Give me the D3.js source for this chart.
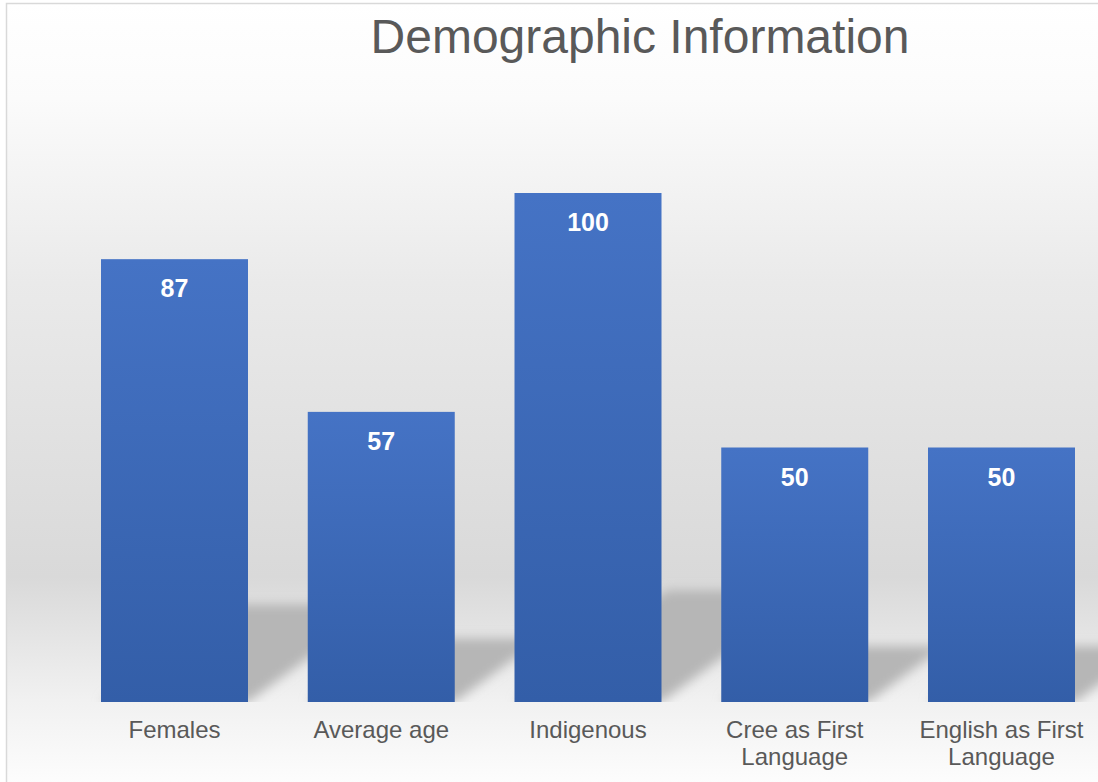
<!DOCTYPE html>
<html>
<head>
<meta charset="utf-8">
<script src="https://cdn.jsdelivr.net/npm/d3@7"></script>
<style>
  html, body { margin: 0; padding: 0; background: #ffffff; }
  svg { display: block; }
  text { font-family: "Liberation Sans", Arial, sans-serif; }
</style>
</head>
<body>
<div id="chart"></div>
<script>
const titleText = "Demographic Information";
const categories = ["Females", "Average age", "Indigenous", "Cree as First Language", "English as First Language"];
const values = [87, 57, 100, 50, 50];

const W = 1098, H = 782;
const svg = d3.select("#chart").append("svg").attr("width", W).attr("height", H);
const defs = svg.append("defs");

// background gradient
const bg = defs.append("linearGradient").attr("id", "bgGrad")
  .attr("gradientUnits", "userSpaceOnUse").attr("x1", 0).attr("y1", 3).attr("x2", 0).attr("y2", 800);
[[0, "#ffffff"], [0.12, "#fbfbfb"], [0.35, "#eaeaea"], [0.72, "#d9d9d9"], [0.875, "#f1f1f1"], [1, "#ffffff"]]
  .forEach(([o, c]) => bg.append("stop").attr("offset", o).attr("stop-color", c));

// bar gradient
const bgBar = defs.append("linearGradient").attr("id", "barGrad")
  .attr("x1", 0).attr("y1", 0).attr("x2", 0).attr("y2", 1);
bgBar.append("stop").attr("offset", 0).attr("stop-color", "#4573c5");
bgBar.append("stop").attr("offset", 1).attr("stop-color", "#335ea8");

// shadow blur
defs.append("filter").attr("id", "blur").attr("x", "-30%").attr("y", "-30%").attr("width", "160%").attr("height", "160%")
  .append("feGaussianBlur").attr("stdDeviation", 5.5);

const baseY = 702;
defs.append("clipPath").attr("id", "plotClip").append("rect")
  .attr("x", 0).attr("y", 0).attr("width", W).attr("height", baseY);

// chart background + border
svg.append("rect").attr("x", 6.5).attr("y", 3.5).attr("width", W + 20).attr("height", H + 20)
  .attr("fill", "url(#bgGrad)").attr("stroke", "#d9d9d9").attr("stroke-width", 1.5);

const x = d3.scaleBand().domain(categories).range([71.125, 1104.875])
  .paddingInner(59.75 / 206.75).paddingOuter(29.875 / 206.75);
const y = d3.scaleLinear().domain([0, 100]).range([baseY, 193]);

// perspective shadows
const shadowG = svg.append("g").attr("clip-path", "url(#plotClip)");
shadowG.selectAll("path").data(values).join("path")
  .attr("d", (d, i) => {
    const x0 = x(categories[i]), x1 = x0 + x.bandwidth();
    const h = y(0) - y(d);
    const dx = h * 0.3, dy = h * 0.22;
    return `M${x0},${y(0)}L${x1},${y(0)}L${x1 + dx},${y(0) - dy}L${x0 + dx},${y(0) - dy}Z`;
  })
  .attr("fill", "#b6b6b6")
  .attr("filter", "url(#blur)");

// bars
svg.append("g").selectAll("rect").data(values).join("rect")
  .attr("x", (d, i) => x(categories[i]))
  .attr("y", d => y(d))
  .attr("width", x.bandwidth())
  .attr("height", d => y(0) - y(d))
  .attr("fill", "url(#barGrad)");

// data labels
svg.append("g").selectAll("text").data(values).join("text")
  .attr("x", (d, i) => x(categories[i]) + x.bandwidth() / 2)
  .attr("y", d => y(d) + 38)
  .attr("text-anchor", "middle")
  .attr("fill", "#ffffff")
  .attr("font-weight", "bold")
  .attr("font-size", 25)
  .text(d => d);

// x axis
const axisG = svg.append("g").attr("transform", `translate(0,${baseY})`)
  .call(d3.axisBottom(x).tickSize(0).tickPadding(0));
axisG.select(".domain").remove();
axisG.selectAll(".tick text")
  .attr("fill", "#595959")
  .attr("font-size", 24)
  .attr("font-family", "'Liberation Sans', Arial, sans-serif")
  .attr("dy", null)
  .attr("y", 36)
  .each(function () {
    const t = d3.select(this);
    const words = t.text().split(" ");
    t.text(null);
    const maxW = 190;
    let lines = [], cur = [];
    const tmp = t.append("tspan");
    words.forEach(w => {
      cur.push(w);
      tmp.text(cur.join(" "));
      if (tmp.node().getComputedTextLength() > maxW && cur.length > 1) {
        cur.pop();
        lines.push(cur.join(" "));
        cur = [w];
      }
    });
    lines.push(cur.join(" "));
    tmp.remove();
    lines.forEach((l, k) => {
      t.append("tspan").attr("x", 0).attr("y", 36 + k * 27).text(l);
    });
  });

// title
svg.append("text").attr("x", 640).attr("y", 53)
  .attr("text-anchor", "middle").attr("fill", "#595959")
  .attr("font-size", 48).text(titleText);
</script>
</body>
</html>
